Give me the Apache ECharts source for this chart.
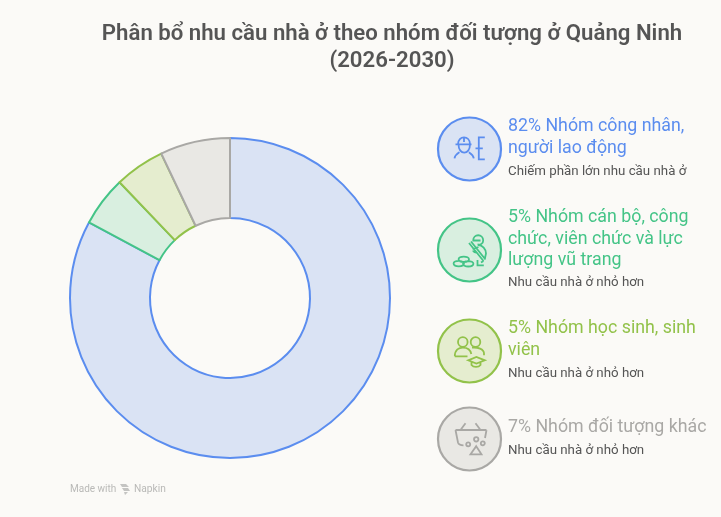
<!DOCTYPE html>
<html>
<head>
<meta charset="utf-8">
<style>html,body{margin:0;padding:0;background:#fbfaf7}#chart{width:721px;height:517px}</style>
<script src="https://cdn.jsdelivr.net/npm/echarts@6/dist/echarts.min.js"></script>
</head>
<body>
<div id="chart"></div>
<script>
// Housing demand shares by group, Quang Ninh 2026-2030
const titleLines = ['Phân bổ nhu cầu nhà ở theo nhóm đối tượng ở Quảng Ninh', '(2026-2030)'];
const groupNames = ['Nhóm công nhân, người lao động', 'Nhóm cán bộ, công chức, viên chức và lực lượng vũ trang', 'Nhóm học sinh, sinh viên', 'Nhóm đối tượng khác'];
const groupValues = [82, 5, 5, 7];
const headingLines = [
  ['82% Nhóm công nhân,', 'người lao động'],
  ['5% Nhóm cán bộ, công', 'chức, viên chức và lực', 'lượng vũ trang'],
  ['5% Nhóm học sinh, sinh', 'viên'],
  ['7% Nhóm đối tượng khác']
];
const notes = ['Chiếm phần lớn nhu cầu nhà ở', 'Nhu cầu nhà ở nhỏ hơn', 'Nhu cầu nhà ở nhỏ hơn', 'Nhu cầu nhà ở nhỏ hơn'];
const strokeColors = ['#5b8def', '#44c487', '#92c24a', '#a9a8a5'];
const fillColors = ['#dae3f4', '#d9efe0', '#e5edcf', '#e9e8e4'];
const headingColors = ['#5b8def', '#44c487', '#92c24a', '#a9a8a5'];

// Full circle as two arcs, for use inside icon outlines
const ring = (x, y, r) => `M${x - r} ${y} A${r} ${r} 0 1 1 ${x + r} ${y} A${r} ${r} 0 1 1 ${x - r} ${y} `;
const oval = (x, y, rx, ry) => `M${x - rx} ${y} A${rx} ${ry} 0 1 1 ${x + rx} ${y} A${rx} ${ry} 0 1 1 ${x - rx} ${y} `;

// Line icons, drawn around the centre of each badge
const icons = [
  // worker in a hard hat, with a tool rack
  'M-14 -4.7 H2 M-11.5 -4.7 C-11.5 -14 0.5 -14 0.5 -4.7 M-5.5 -11.5 V-7 M-11 -4.7 C-11 6.5 0.5 6.5 0.5 -4.7 ' +
  'M-15 9.3 C-14.5 6 -12.5 4.8 -10 3.2 M4.3 9.3 C3.8 6 1.8 4.8 -0.6 3.2 ' +
  'M15.3 -11.7 H9.3 V10.3 H15.3 M6 -0.7 H13.3',
  // soldier with a rifle behind a stack of sandbags
  'M3.7 -9.5 C3.7 -16.5 13.7 -16.5 13.7 -9.5 C13.7 -6 10.5 -5 8 -5.5 M3 -9.5 H11 ' +
  'M-0.5 -7 L14 11 M1.5 -8.5 L16 9.5 M8.5 -5 C13 -5 16.5 -1 16.5 3.5 L15.5 8 M3 -1 L9 -3 M3.5 0.5 C4 2 6 3 7.5 2.5 ' +
  'M8 10 V15.3 H14.3 M14 11 L11.5 12.5 ' +
  oval(-5.7, 9.3, 5.2, 2.7) + oval(-10.7, 13.6, 5.2, 2.7) + oval(-1.3, 13.8, 5.2, 2.7),
  // two students and a graduation cap
  ring(-6.7, -9, 4.8) + ring(6, -9, 4.8) +
  'M-14.7 5.3 C-14.7 -1.5 -10.5 -3.4 -6.7 -3.4 C-2.5 -3.4 1 -1.5 1.8 3 M-14.7 5.3 H-2 ' +
  'M2.5 -3.4 C8 -4 14.5 -2 14.5 2.5 M14.5 2.5 V4.3 ' +
  'M-1.3 9.3 L6.9 6 L15.3 9.3 L6.9 12.6 Z M2 11 V14 C4 16.5 9 16.5 11 14 V11',
  // basket with small assorted goods
  'M-14 -9 H17 M-9 -9 L-4 -15.7 M11 -9 L6 -15.7 M-14 -9 L-11.5 3.5 C-11 5.5 -9.5 6.3 -6 6.3 M17 -9 L15.5 -1 ' +
  ring(-1.3, 5.3, 2) + ring(6.7, 0.3, 2.2) + ring(13.3, 4.3, 2) +
  'M6.7 7.2 L12 15.3 H1 Z'
];
const logoMark = 'M-5 -5 H1 L4 -2 H-3 L-5 -5 M-3 -1 H3 L5 2 H-1 Z M-1 3 H3 L0 6 Z';

// Graphic elements have no plain path type, so each icon is registered as a shape
icons.forEach((d, i) => echarts.graphic.registerShape('badgeIcon' + i, echarts.graphic.extendPath(d, {})));
echarts.graphic.registerShape('logoMark', echarts.graphic.extendPath(logoMark, {}));

const cx = [469.5, 469.5, 469.5, 469.5];
const cy = [149, 250, 351, 439];
const headingY = [127, 218, 329, 428];
const noteY = [171.5, 282.5, 373.5, 450.5];
const lineStep = 21.5;
const font = 'Roboto, sans-serif';

const graphics = [];
titleLines.forEach((t, i) => graphics.push({
  type: 'text', x: 392, y: 34 + i * 27,
  style: { text: t, fill: '#555555', font: '600 22.2px ' + font, align: 'center', verticalAlign: 'middle' }
}));
groupNames.forEach((name, i) => {
  graphics.push({
    type: 'circle', shape: { cx: cx[i], cy: cy[i], r: 31.5 },
    style: { fill: fillColors[i], stroke: strokeColors[i], lineWidth: 2.2 }
  });
  graphics.push({
    type: 'badgeIcon' + i, x: cx[i], y: cy[i],
    style: { fill: 'none', stroke: strokeColors[i], lineWidth: 1.8 }
  });
  headingLines[i].forEach((line, j) => graphics.push({
    type: 'text', x: 508, y: headingY[i] + j * lineStep,
    style: { text: line, fill: headingColors[i], font: '400 17.8px ' + font, verticalAlign: 'middle' }
  }));
  graphics.push({
    type: 'text', x: 508, y: noteY[i],
    style: { text: notes[i], fill: '#555555', font: '13.3px ' + font, verticalAlign: 'middle' }
  });
});
graphics.push({
  type: 'text', x: 70, y: 489,
  style: { text: 'Made with', fill: '#b9b9b7', font: '10px ' + font, verticalAlign: 'middle' }
});
graphics.push({
  type: 'logoMark', x: 125, y: 489,
  style: { fill: '#c4c4c2', stroke: 'none' }
});
graphics.push({
  type: 'text', x: 134, y: 489,
  style: { text: 'Napkin', fill: '#b9b9b7', font: '10.2px ' + font, verticalAlign: 'middle' }
});

const chart = echarts.init(document.getElementById('chart'), null, { renderer: 'canvas' });
chart.setOption({
  backgroundColor: '#fbfaf7',
  animation: false,
  series: [{
    type: 'pie',
    center: [230, 298],
    radius: [80, 160],
    startAngle: 90,
    clockwise: true,
    label: { show: false },
    labelLine: { show: false },
    silent: true,
    data: groupNames.map((name, i) => ({
      name,
      value: groupValues[i],
      itemStyle: { color: fillColors[i], borderColor: strokeColors[i], borderWidth: 2 }
    }))
  }],
  graphic: graphics
});
</script>
</body>
</html>
